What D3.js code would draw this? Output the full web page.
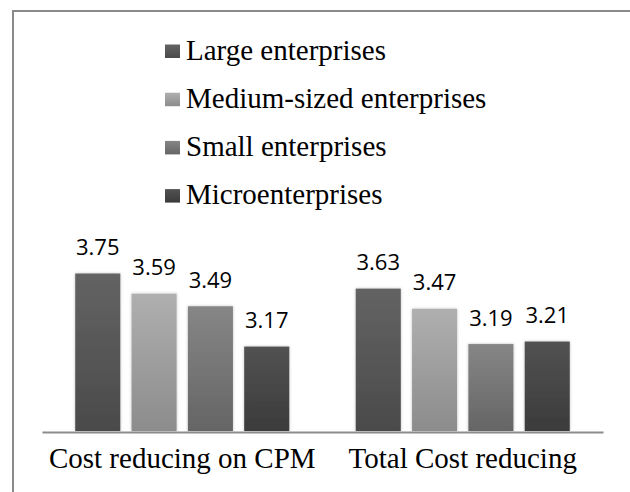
<!DOCTYPE html>
<html>
<head>
<meta charset="utf-8">
<script src="https://cdn.jsdelivr.net/npm/d3@7"></script>
<style>
  html, body { margin: 0; padding: 0; background: #fff; }
  svg { display: block; }
  .serif { font-family: "Liberation Serif", "DejaVu Serif", serif; }
  .sans { font-family: "Open Sans", "Liberation Sans", sans-serif; }
</style>
</head>
<body>
<svg id="chart" width="630" height="492"></svg>
<script>
const categories = ["Cost reducing on CPM", "Total Cost reducing"];
const seriesNames = ["Large enterprises", "Medium-sized enterprises", "Small enterprises", "Microenterprises"];
const largeValues = [3.75, 3.63];
const mediumValues = [3.59, 3.47];
const smallValues = [3.49, 3.19];
const microValues = [3.17, 3.21];
const valueLabels = [["3.75", "3.63"], ["3.59", "3.47"], ["3.49", "3.19"], ["3.17", "3.21"]];
const yDomain = [2.5, 4.0];

const seriesValues = [largeValues, mediumValues, smallValues, microValues];
const gradStops = [
  ["#636363", "#4a4a4a"],
  ["#afafaf", "#8c8c8c"],
  ["#868686", "#656565"],
  ["#525252", "#3b3b3b"]
];

const svg = d3.select("#chart");
const defs = svg.append("defs");
gradStops.forEach((g, i) => {
  const lg = defs.append("linearGradient").attr("id", "g" + i)
    .attr("x1", 0).attr("y1", 0).attr("x2", 0).attr("y2", 1);
  lg.append("stop").attr("offset", "0%").attr("stop-color", g[0]);
  lg.append("stop").attr("offset", "100%").attr("stop-color", g[1]);
});
const sh = defs.append("filter").attr("id", "sh").attr("x", "-20%").attr("y", "-20%").attr("width", "140%").attr("height", "140%");
sh.append("feDropShadow").attr("dx", 0).attr("dy", 0).attr("stdDeviation", 1.5).attr("flood-color", "#000").attr("flood-opacity", 0.25);

// outer frame (cropped at right and bottom)
svg.append("rect").attr("x", 13).attr("y", 11).attr("width", 700).attr("height", 600)
  .attr("fill", "none").attr("stroke", "#8a8a8a").attr("stroke-width", 2);

const x0 = d3.scaleBand().domain(categories).range([42, 603]);
const x1 = d3.scaleBand().domain(seriesNames).range([0, x0.bandwidth()]).paddingInner(0.2).paddingOuter(0.59);
const y = d3.scaleLinear().domain(yDomain).range([431, 242]);

const data = [];
seriesNames.forEach((s, si) => {
  categories.forEach((c, ci) => {
    data.push({ s, si, c, v: seriesValues[si][ci], label: valueLabels[si][ci] });
  });
});

svg.append("g").selectAll("rect").data(data).join("rect")
  .attr("x", d => x0(d.c) + x1(d.s))
  .attr("y", d => y(d.v))
  .attr("width", x1.bandwidth())
  .attr("height", d => y(yDomain[0]) - y(d.v))
  .attr("fill", d => "url(#g" + d.si + ")")
  .attr("filter", "url(#sh)");

svg.append("g").selectAll("text").data(data).join("text")
  .attr("class", "sans")
  .attr("x", d => x0(d.c) + x1(d.s) + x1.bandwidth() / 2)
  .attr("y", d => y(d.v) - 18.5)
  .attr("text-anchor", "middle")
  .style("font-size", "22px")
  .attr("fill", "#000")
  .text(d => d.label);

// category axis
const xAxis = svg.append("g").attr("transform", `translate(0,${y(yDomain[0]) + 1})`)
  .call(d3.axisBottom(x0).tickSize(0).tickPadding(0));
xAxis.attr("font-family", null).attr("font-size", null);
xAxis.select(".domain").attr("stroke", "#8c8c8c").attr("stroke-width", 2);
xAxis.selectAll(".tick text")
  .attr("class", "serif")
  .style("font-size", "29px")
  .attr("fill", "#000")
  .attr("dy", 0)
  .attr("y", 36);

// legend
const legend = svg.append("g").selectAll("g").data(seriesNames).join("g")
  .attr("transform", (d, i) => `translate(165,${59.5 + i * 48.2})`);
legend.append("rect").attr("x", 0).attr("y", -15).attr("width", 15).attr("height", 13.5)
  .attr("fill", (d, i) => "url(#g" + i + ")");
legend.append("text").attr("x", 21).attr("y", 0)
  .attr("class", "serif")
  .style("font-size", "29px")
  .attr("fill", "#000")
  .text(d => d);
</script>
</body>
</html>
